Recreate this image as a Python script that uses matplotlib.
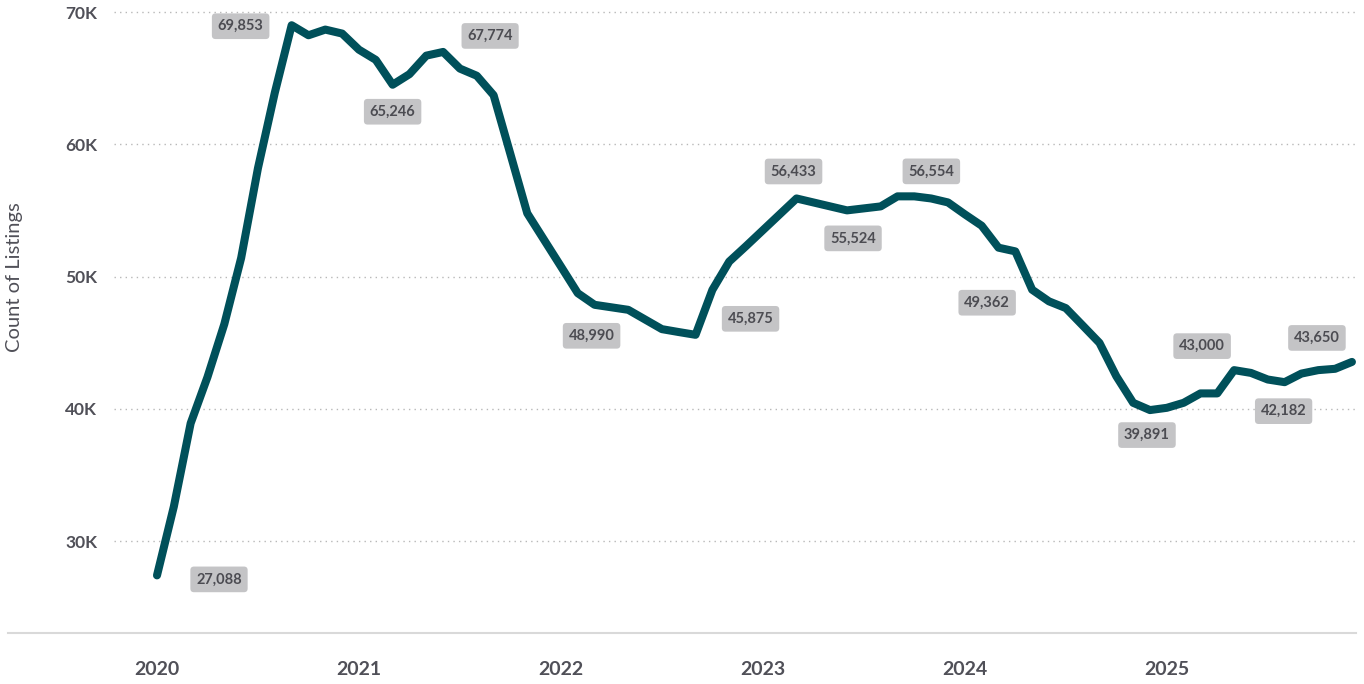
import matplotlib.pyplot as plt
from matplotlib.lines import Line2D
from matplotlib.ticker import FuncFormatter

# monthly listing counts, Jan 2020 - Dec 2025
listings = [27400, 32600, 38900, 42400, 46400, 51400, 58200, 63900, 69000,
            68240, 68670, 68370, 67150, 66380, 64500, 65300, 66700, 66980, 65720, 65180,
            63710, 59250, 54780, 52770, 50760, 48740, 47860, 47670, 47480, 46750,
            46020, 45800, 45590, 48990, 51130, 52300, 53500, 54700, 55900, 55600,
            55300, 55000, 55150, 55300, 56060, 56060, 55900, 55600, 54700, 53840,
            52180, 51900, 49000, 48120, 47610, 46300, 44980, 42460, 40450, 39900,
            40070, 40450, 41160, 41160, 42920, 42710, 42210, 42010, 42660, 42920,
            43020, 43540]
years = ['2020', '2021', '2022', '2023', '2024', '2025']
y_ticks = [30000, 40000, 50000, 60000, 70000]

# callouts: month index and shown value
label_idx = [0, 8, 14, 17, 26, 32, 38, 41, 45, 52, 59, 64, 67, 71]
label_val = [27088, 69853, 65246, 67774, 48990, 45875, 56433, 55524, 56554,
             49362, 39891, 43000, 42182, 43650]
label_off = [(62, -4), (-51, -1), (0, -27), (47, 16), (-3, -31), (55, 16), (-3, 27),
             (6, -28), (17, 25), (-45, -13), (-3, -25), (-32, 24), (-1, -29), (-35, 24)]

W, H = 1364, 684
fig = plt.figure(figsize=(W / 100, H / 100), dpi=100)
plt.rcParams['font.family'] = ['Lato', 'DejaVu Sans']

left, right, top, bottom = 114, 1356, 5, 633
ax = fig.add_axes([left / W, (H - bottom) / H, (right - left) / W, (bottom - top) / H])

px_month = 16.83
ax.set_xlim(-(157 - left) / px_month, (right - 157) / px_month)
px_unit = 132.25 / 10000
ax.set_ylim(70000 - (bottom - 12) / px_unit, 70000 + (12 - top) / px_unit)

months = list(range(len(listings)))
ax.plot(months, listings, color='#00505a', lw=5.8, solid_capstyle='round',
        solid_joinstyle='round', zorder=3)

for i, v, off in zip(label_idx, label_val, label_off):
    ax.annotate(f'{v:,}', (months[i], listings[i]), xytext=off, textcoords='offset pixels',
                ha='center', va='center', fontsize=10.5, fontweight='bold', color='#4c4c52',
                bbox=dict(boxstyle='round,pad=0.4,rounding_size=0.25', fc='#c4c4c6', ec='none'),
                zorder=4)

ax.set_yticks(y_ticks)
ax.yaxis.set_major_formatter(FuncFormatter(lambda v, p: f'{int(v / 1000)}K'))
ax.set_xticks([12 * k for k in range(len(years))])
ax.set_xticklabels(years)
ax.tick_params(axis='y', length=0, pad=12, labelsize=12.5, labelcolor='#505058')
ax.tick_params(axis='x', length=0, pad=20, labelsize=14, labelcolor='#505058')
for t in ax.get_xticklabels() + ax.get_yticklabels():
    t.set_fontweight('bold')

ax.grid(axis='y', linestyle=(0, (1, 3)), color='#b8b8b8', lw=1)
ax.grid(axis='x', visible=False)
for s in ax.spines.values():
    s.set_visible(False)

fig.add_artist(Line2D([8 / W, right / W], [(H - bottom) / H] * 2, transform=fig.transFigure,
                      color='#d9d9d9', lw=1.5))
fig.text(15 / W, (H - 277) / H, 'Count of Listings', rotation=90, ha='center', va='center',
         fontsize=14.5, color='#505058')

fig.savefig('out.png', dpi=100)
